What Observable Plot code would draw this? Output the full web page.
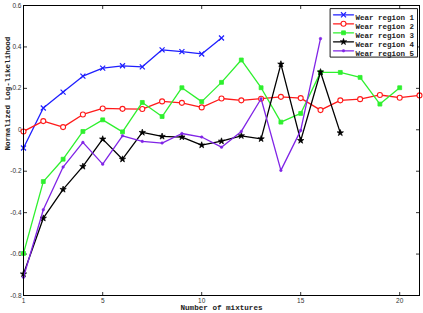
<!DOCTYPE html>
<html>
<head>
<meta charset="utf-8">
<script src="https://cdn.jsdelivr.net/npm/d3@7"></script>
<script src="https://cdn.jsdelivr.net/npm/@observablehq/plot@0.6"></script>
<style>
  html, body { margin: 0; padding: 0; background: white; }
</style>
</head>
<body>
<div id="chart"></div>
<script>
const seriesNames = ["Wear region 1", "Wear region 2", "Wear region 3", "Wear region 4", "Wear region 5"];
const seriesColors = ["#1f1fff", "#ff1a1a", "#2ef02e", "#000000", "#8024e6"];
const s1 = [-0.088, 0.105, 0.182, 0.259, 0.298, 0.309, 0.304, 0.386, 0.377, 0.366, 0.443];
const s2 = [-0.008, 0.042, 0.013, 0.074, 0.103, 0.101, 0.100, 0.137, 0.130, 0.108, 0.151, 0.142, 0.150, 0.159, 0.153, 0.095, 0.142, 0.148, 0.168, 0.155, 0.166];
const s3 = [-0.597, -0.250, -0.142, -0.008, 0.048, -0.010, 0.132, 0.064, 0.203, 0.136, 0.229, 0.337, 0.203, 0.037, 0.079, 0.277, 0.277, 0.253, 0.124, 0.203];
const s4 = [-0.696, -0.427, -0.288, -0.177, -0.045, -0.142, -0.013, -0.032, -0.035, -0.074, -0.055, -0.029, -0.044, 0.317, -0.052, 0.279, -0.015];
const s5 = [-0.712, -0.386, -0.180, -0.061, -0.166, -0.029, -0.056, -0.064, -0.018, -0.035, -0.084, -0.008, 0.150, -0.196, -0.003, 0.440];
const xTicks = [1, 5, 10, 15, 20];
const xTickLabels = ["1", "5", "10", "15", "20"];
const yTicks = [-0.8, -0.6, -0.4, -0.2, 0, 0.2, 0.4, 0.6];
const yTickLabels = ["-0.8", "-0.6", "-0.4", "-0.2", "0", "0.2", "0.4", "0.6"];
const xDomain = [1, 21];
const yDomain = [-0.8, 0.6];
const xLabel = "Number of mixtures";
const yLabel = "Normalized Log-likelihood";

const allSeries = [s1, s2, s3, s4, s5];
const rows = allSeries.flatMap((s, k) => s.map((v, i) => ({x: i + 1, y: v, series: seriesNames[k]})));

const markerStyles = [
  {symbol: "times", r: 2.4, fill: "none", strokeWidth: 1.2},
  {symbol: "circle", r: 2.5, fill: "white", strokeWidth: 1.1},
  {symbol: "square", r: 2.2, fill: "currentColor", strokeWidth: 0.8},
  {symbol: "star", r: 2.0, fill: "currentColor", strokeWidth: 0.7},
  {symbol: "circle", r: 1.3, fill: "currentColor", strokeWidth: 0.5}
];

const lineShape = {draw(c, l) { c.moveTo(0, 0); c.lineTo(0, -l); }};
const hLine = {draw(c) { c.moveTo(-10, 0); c.lineTo(10, 0); }};
const boxShape = {draw(c) { c.rect(-43.5, -24.2, 87, 48.5); }};

const tickOpts = {length: 3.5, anchor: "start", shape: lineShape, stroke: "black", strokeWidth: 0.8, strokeLinecap: "butt"};

const legendMarks = seriesNames.flatMap((name, k) => {
  const dy = 9.3 + 9 * k;
  const m = markerStyles[k];
  const col = seriesColors[k];
  return [
    Plot.vector([name], {frameAnchor: "top-right", dx: -76, dy, length: 1, anchor: "start", shape: hLine, stroke: col, strokeWidth: 1.3}),
    Plot.dot([name], {frameAnchor: "top-right", dx: -76, dy, symbol: m.symbol, r: m.r,
      fill: m.fill === "currentColor" ? col : m.fill, stroke: col, strokeWidth: m.strokeWidth}),
    Plot.text([name], {frameAnchor: "top-right", dx: -64, dy, text: d => d, textAnchor: "start",
      fontFamily: "Liberation Mono, DejaVu Sans Mono, monospace", fontWeight: "bold", fontSize: 7.5, fill: "#222"})
  ];
});

const seriesMarks = seriesNames.flatMap((name, k) => {
  const data = rows.filter(d => d.series === name);
  const m = markerStyles[k];
  const col = seriesColors[k];
  return [
    Plot.line(data, {x: "x", y: "y", stroke: col, strokeWidth: 1.3}),
    Plot.dot(data, {x: "x", y: "y", symbol: m.symbol, r: m.r,
      fill: m.fill === "currentColor" ? col : m.fill, stroke: col, strokeWidth: m.strokeWidth})
  ];
});

const chart = Plot.plot({
  width: 423,
  height: 313,
  marginLeft: 23,
  marginRight: 4,
  marginTop: 5,
  marginBottom: 18,
  style: {background: "white", fontFamily: "Liberation Sans, DejaVu Sans, sans-serif"},
  x: {domain: xDomain},
  y: {domain: yDomain},
  marks: [
    Plot.axisX(xTicks, {tickSize: 0, tickPadding: 3, fontSize: 6.5, fill: "#333",
      tickFormat: d => xTickLabels[xTicks.indexOf(d)], label: null}),
    Plot.axisY(yTicks, {tickSize: 0, tickPadding: 2, fontSize: 6.5, fill: "#333",
      tickFormat: d => yTickLabels[yTicks.indexOf(d)], label: null}),
    Plot.vector(xTicks, {x: d => d, y: yDomain[0], rotate: 0, ...tickOpts}),
    Plot.vector(xTicks, {x: d => d, y: yDomain[1], rotate: 180, ...tickOpts}),
    Plot.vector(yTicks, {y: d => d, x: xDomain[0], rotate: 90, ...tickOpts}),
    Plot.vector(yTicks, {y: d => d, x: xDomain[1], rotate: -90, ...tickOpts}),
    ...seriesMarks,
    Plot.frame({stroke: "black", strokeWidth: 1}),
    Plot.vector(["legend"], {frameAnchor: "top-right", dx: -45.5, dy: 27.3, length: 1, anchor: "start",
      shape: boxShape, stroke: "black", fill: "white", strokeWidth: 0.9}),
    ...legendMarks,
    Plot.text([xLabel], {frameAnchor: "bottom", dy: 14, text: d => d, fontFamily: "Liberation Mono, DejaVu Sans Mono, monospace",
      fontWeight: "bold", fontSize: 7.6, fill: "#222"}),
    Plot.text([yLabel], {frameAnchor: "left", dx: -16, rotate: -90, text: d => d, fontFamily: "Liberation Mono, DejaVu Sans Mono, monospace",
      fontWeight: "bold", fontSize: 7.6, fill: "#222"})
  ]
});
document.getElementById("chart").appendChild(chart);
</script>
</body>
</html>
